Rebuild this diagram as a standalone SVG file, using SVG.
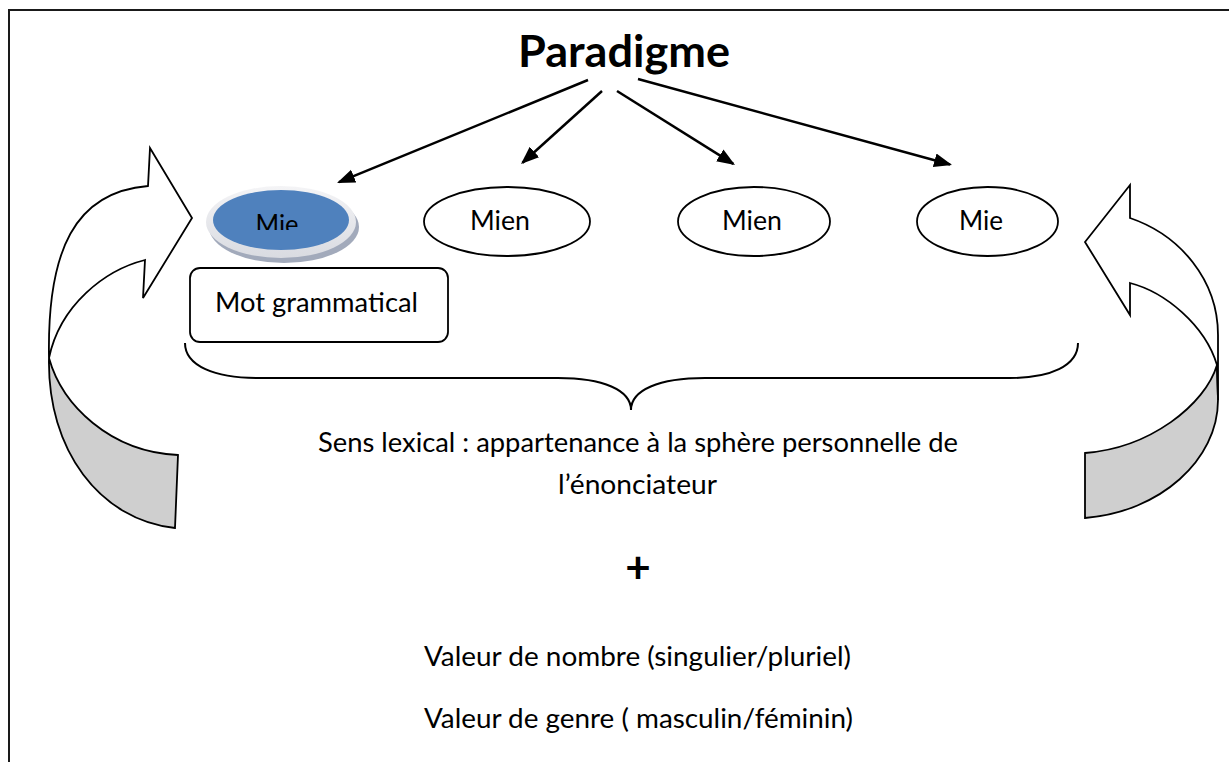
<svg xmlns="http://www.w3.org/2000/svg" width="1229" height="762" viewBox="0 0 1229 762">
  <defs>
    <style>
      .frame { fill: none; stroke: #1a1a1a; stroke-width: 2; }
      .lbl { font-family: Lato, "Liberation Sans", sans-serif; font-size: 26px; fill: #000; }
      .title { font-family: Lato, "Liberation Sans", sans-serif; font-size: 43px; font-weight: bold; fill: #000; }
      .plus { font-family: Lato, "Liberation Sans", sans-serif; font-size: 44px; font-weight: bold; fill: #000; }
      .oval { fill: #fff; stroke: #000; stroke-width: 1.8; }
      .box { fill: #fff; stroke: #000; stroke-width: 1.8; }
      .edge { fill: none; stroke: #000; stroke-width: 2.5; marker-end: url(#head); }
      .brace { fill: none; stroke: #000; stroke-width: 2; }
      .turnFront { fill: #fff; stroke: #000; stroke-width: 1.8; stroke-linejoin: miter; }
      .turnBack { fill: #cfcfcf; stroke: #000; stroke-width: 1.8; }
    </style>
    <marker id="head" markerUnits="userSpaceOnUse" markerWidth="20" markerHeight="16" refX="16" refY="7" orient="auto">
      <path d="M0,0 L18,7 L0,14 Z" fill="#000"/>
    </marker>
    <linearGradient id="rim" x1="0" y1="0" x2="0" y2="1">
      <stop offset="0" stop-color="#f4f4f6"/>
      <stop offset="1" stop-color="#d9dbe1"/>
    </linearGradient>
    <clipPath id="mieClip">
      <rect x="230" y="200" width="100" height="30"/>
    </clipPath>
  </defs>

  <rect width="1229" height="762" fill="#fff"/>

  <!-- page frame -->
  <path class="frame" d="M9,762 L9,10 L1229,10"/>

  <!-- title -->
  <g id="paradigme">
    <text class="title" x="624" y="67" text-anchor="middle" textLength="212" lengthAdjust="spacingAndGlyphs">Paradigme</text>
  </g>

  <!-- connectors from the title to the four forms -->
  <g id="connectors">
    <line class="edge" x1="588" y1="80" x2="338.9" y2="182.2"/>
    <line class="edge" x1="602" y1="91" x2="522.5" y2="162.7"/>
    <line class="edge" x1="617" y1="91" x2="733.3" y2="163.9"/>
    <line class="edge" x1="638" y1="79" x2="950.1" y2="164.5"/>
  </g>

  <!-- highlighted form -->
  <g id="mie-1">
    <ellipse cx="284" cy="227" rx="75" ry="36" fill="#a2aabb"/>
    <ellipse cx="281" cy="222" rx="75" ry="36" fill="url(#rim)"/>
    <ellipse cx="281" cy="220" rx="68" ry="30" fill="#4f81bd"/>
    <text class="lbl" x="277" y="234" text-anchor="middle" textLength="43" lengthAdjust="spacingAndGlyphs" clip-path="url(#mieClip)" fill="#111">Mie</text>
  </g>

  <g id="mien-1">
    <ellipse class="oval" cx="507" cy="221.5" rx="83" ry="34.5"/>
    <text class="lbl" x="500" y="230" text-anchor="middle" textLength="60" lengthAdjust="spacingAndGlyphs">Mien</text>
  </g>

  <g id="mien-2">
    <ellipse class="oval" cx="754" cy="221.5" rx="76" ry="34.5"/>
    <text class="lbl" x="752" y="230" text-anchor="middle" textLength="60" lengthAdjust="spacingAndGlyphs">Mien</text>
  </g>

  <g id="mie-2">
    <ellipse class="oval" cx="987.5" cy="221.5" rx="70.5" ry="34.5"/>
    <text class="lbl" x="981" y="230" text-anchor="middle" textLength="44" lengthAdjust="spacingAndGlyphs">Mie</text>
  </g>

  <g id="mot-grammatical">
    <rect class="box" x="190" y="268" width="258" height="74" rx="10" ry="10"/>
    <text class="lbl" x="215" y="312" textLength="203" lengthAdjust="spacingAndGlyphs">Mot grammatical</text>
  </g>

  <!-- curly brace under the row of forms -->
  <g id="brace">
    <path class="brace" d="M185,343 C185,366 215,378 258,378 L558,378 C603,378 631,390 631,410 C631,390 659,378 705,378 L1010,378 C1050,378 1078,366 1078,343"/>
  </g>

  <!-- left turning arrow -->
  <g id="turn-left">
    <path class="turnBack" d="M49,358 C62,405 110,452 178,455 L175,528 C100,520 47,450 49,358 Z"/>
    <path class="turnFront" d="M148,186 L150,148 L192,218 L143,298 L145,260 C105,270 60,305 49,358 C47,250 75,192 148,186 Z"/>
  </g>

  <!-- right turning arrow -->
  <g id="turn-right">
    <path class="turnBack" d="M1217,365 C1205,405 1150,448 1085,453 L1085,518 C1160,512 1218,460 1218,400 Z"/>
    <path class="turnFront" d="M1130,218 L1130,185 L1085,242 L1130,315 L1130,283 C1165,292 1205,325 1217,365 L1218,400 L1218,335 C1218,280 1180,235 1130,218 Z"/>
  </g>

  <!-- meaning and values -->
  <g id="sens">
    <text class="lbl" x="638" y="452" text-anchor="middle" textLength="640" lengthAdjust="spacingAndGlyphs">Sens lexical : appartenance à la sphère personnelle de</text>
    <text class="lbl" x="637.5" y="494" text-anchor="middle" textLength="159" lengthAdjust="spacingAndGlyphs">l’énonciateur</text>
  </g>

  <g id="plus">
    <text class="plus" x="638" y="583" text-anchor="middle">+</text>
  </g>

  <g id="valeurs">
    <text class="lbl" x="637.5" y="666" text-anchor="middle" textLength="427" lengthAdjust="spacingAndGlyphs">Valeur de nombre (singulier/pluriel)</text>
    <text class="lbl" x="638.5" y="728" text-anchor="middle" textLength="429" lengthAdjust="spacingAndGlyphs">Valeur de genre ( masculin/féminin)</text>
  </g>
</svg>
